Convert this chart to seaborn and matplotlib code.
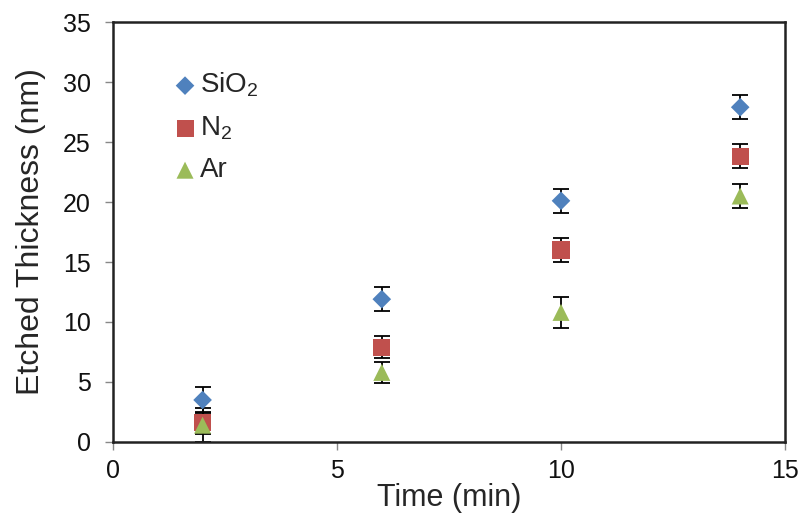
import numpy as np
import pandas as pd
import seaborn as sns
import matplotlib.pyplot as plt

# values
time_min = [2, 6, 10, 14]
sio2 = [3.5, 11.9, 20.1, 27.9]
sio2_err = [1.1, 1.0, 1.0, 1.0]
n2 = [1.6, 7.9, 16.0, 23.8]
n2_err = [0.9, 0.9, 1.0, 1.0]
ar = [1.4, 5.8, 10.8, 20.5]
ar_err = [1.4, 0.9, 1.3, 1.0]

labels = ['SiO$_2$', 'N$_2$', 'Ar']
colors = ['#4F81BD', '#C0504D', '#9BBB59']
markers = ['D', 's', '^']
sizes = [90, 150, 150]

rows = []
for lab, vals, errs in zip(labels, [sio2, n2, ar], [sio2_err, n2_err, ar_err]):
    for t, v, e in zip(time_min, vals, errs):
        rows.append([lab, t, v, e])
data = pd.DataFrame(rows, columns=['gas', 'time', 'thickness', 'err'])

sns.set_theme(style='white')
plt.rcParams['font.family'] = ['Liberation Sans', 'DejaVu Sans']
plt.rcParams['mathtext.default'] = 'regular'

fig = plt.figure(figsize=(8.03, 5.17), dpi=100)
ax = fig.add_axes([0.1407, 0.1451, 0.8369, 0.8123])

for lab, col, mk, sz in zip(labels, colors, markers, sizes):
    sub = data[data.gas == lab]
    ax.errorbar(sub.time, sub.thickness, yerr=sub.err, fmt='none',
                ecolor='black', elinewidth=1.3, capsize=6, capthick=1.3, zorder=2)
    sns.scatterplot(data=sub, x='time', y='thickness', marker=mk, s=sz,
                    color=col, edgecolor='none', label=lab, ax=ax, zorder=3)

ax.set_xlim(0, 15)
ax.set_ylim(0, 35)
ax.set_xticks([0, 5, 10, 15])
ax.set_yticks(np.arange(0, 36, 5))
ax.set_xlabel('Time (min)', fontsize=22, labelpad=0)
ax.set_ylabel('Etched Thickness (nm)', fontsize=23, labelpad=12)
ax.tick_params(axis='both', which='major', labelsize=18, length=6,
               width=1, color='#888888', direction='out',
               left=True, bottom=True, labelcolor='#111111')
ax.tick_params(axis='y', pad=10)
ax.tick_params(axis='x', pad=6)
for s in ax.spines.values():
    s.set_color('#222222')
    s.set_linewidth(1.8)

leg = ax.legend(loc='upper left', bbox_to_anchor=(0.07, 0.91), frameon=False,
                fontsize=20, handletextpad=0.05, labelspacing=0.55,
                handlelength=1.0, borderaxespad=0)

plt.savefig('out.png', dpi=100)
